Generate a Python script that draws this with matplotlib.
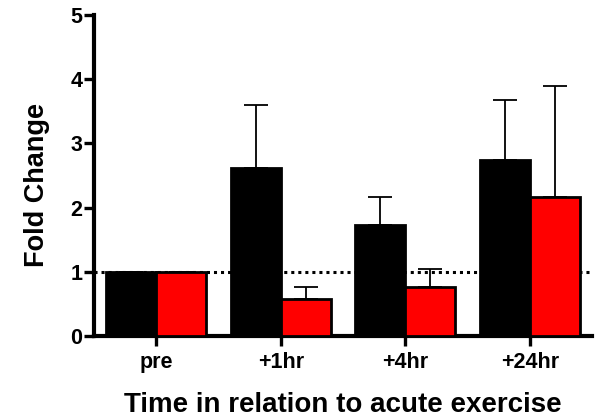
import matplotlib
matplotlib.use("Agg")
import matplotlib.pyplot as plt
import numpy as np

plt.rcParams['font.family'] = ['Liberation Sans', 'DejaVu Sans']
plt.rcParams['font.weight'] = 'bold'

timepoints = ["pre", "+1hr", "+4hr", "+24hr"]
group_a_mean = [1.0, 2.62, 1.73, 2.74]
group_a_err = [0.0, 0.98, 0.44, 0.93]
group_b_mean = [1.0, 0.58, 0.76, 2.17]
group_b_err = [0.0, 0.19, 0.29, 1.72]

fig = plt.figure(figsize=(5.96, 4.2), dpi=100)
ax = fig.add_axes([94 / 596, 84 / 420, (592 - 94) / 596, (336 - 15) / 420])

x = np.arange(len(timepoints))
w = 0.4

ax.axhline(1.0, color="black", linestyle=(0, (1.0, 1.3)), linewidth=2.2,
           dash_capstyle="butt", zorder=1)

err_kw = dict(elinewidth=1.3, capsize=8.3, capthick=1.3, ecolor="black", zorder=2)
ax.bar(x - w / 2, group_a_mean, width=w, color="black", edgecolor="black",
       linewidth=2, yerr=[np.zeros(4), group_a_err], error_kw=err_kw, zorder=3)
ax.bar(x + w / 2, group_b_mean, width=w, color="#ff0000", edgecolor="black",
       linewidth=2, yerr=[np.zeros(4), group_b_err], error_kw=err_kw, zorder=3)

ax.set_xlim(-0.5, 3.5)
ax.set_ylim(0, 5)
ax.set_yticks([0, 1, 2, 3, 4, 5])
ax.set_xticks(x)
ax.set_xticklabels(timepoints)

for side in ("top", "right"):
    ax.spines[side].set_visible(False)
for side in ("left", "bottom"):
    ax.spines[side].set_linewidth(3)
ax.tick_params(axis="both", width=2.4, length=7.5, labelsize=15.5, pad=1)
ax.tick_params(axis="x", pad=4)

ax.set_ylabel("Fold Change", fontsize=19.5, fontweight="bold")
ax.yaxis.set_label_coords(-0.088, 0.47)
ax.set_xlabel("Time in relation to acute exercise", fontsize=20,
              fontweight="bold", labelpad=14)

fig.savefig("out.png", dpi=100)
